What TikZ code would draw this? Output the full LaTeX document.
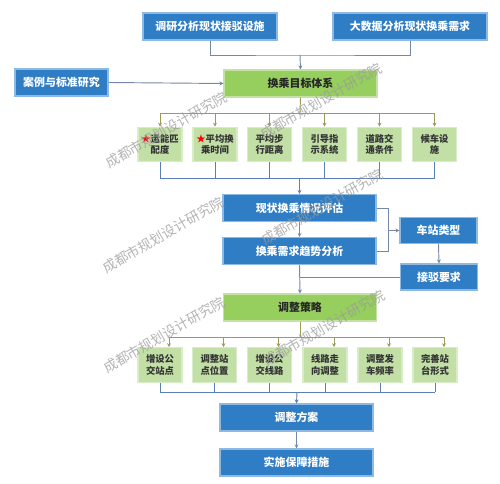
\documentclass[tikz,border=0pt]{standalone}
\usepackage{fontspec}
\setmainfont{Noto Sans CJK SC}
\usetikzlibrary{arrows.meta}
\definecolor{bfill}{HTML}{2E7DC5}
\definecolor{bdraw}{HTML}{8DB9E2}
\definecolor{gfill}{HTML}{96CF5E}
\definecolor{gdraw}{HTML}{C4E2A4}
\definecolor{sfill}{HTML}{C2DFA6}
\definecolor{sdraw}{HTML}{D9ECC8}
\definecolor{lblue}{HTML}{5B7DB8}
\definecolor{lgray}{HTML}{7588A6}
\definecolor{lolive}{HTML}{9C9A5A}
\definecolor{wm}{HTML}{9A9A9A}
\tikzset{
  bluebox/.style={draw=bdraw, line width=0.8pt, fill=bfill, text=white, font=\fontsize{8.2}{10}\selectfont\bfseries, minimum height=20.25pt, inner sep=0pt},
  greenbox/.style={draw=gdraw, line width=0.8pt, fill=gfill, text=black!85, font=\fontsize{8.2}{10}\selectfont\bfseries, minimum width=114.75pt, minimum height=20.25pt, inner sep=0pt},
  smallbox/.style={draw=sdraw, line width=0.8pt, fill=sfill, text=black!80, font=\fontsize{7}{8.6}\selectfont\bfseries, minimum width=33pt, minimum height=26pt, inner sep=0pt, align=center},
  conn/.style={line width=0.7pt},
  arr/.style={conn, -{Stealth[length=3pt,width=3pt]}},
  wmark/.style={text=wm, opacity=0.75, rotate=30, font=\fontsize{10.3}{12}\selectfont}
}
\newcommand{\rs}{\textcolor{red}{★}}
\begin{document}
\begin{tikzpicture}[x=0.75pt,y=-0.75pt]
\useasboundingbox (0,0) rectangle (500,484);
% top
\node[bluebox, minimum width=100.5pt] (top1) at (210,26.5) {调研分析现状接驳设施};
\node[bluebox, minimum width=115.5pt] (top2) at (410,26.5) {大数据分析现状换乘需求};
\node[bluebox, minimum width=69.75pt] (case) at (61.5,82.5) {案例与标准研究};
\node[greenbox] (target) at (300.5,83.5) {换乘目标体系};
% row 1
\node[smallbox] (g1) at (160,144.5) {\rs 运能匹\\配度};
\node[smallbox] (g2) at (215,144.5) {\rs 平均换\\乘时间};
\node[smallbox] (g3) at (269.5,144.5) {平均步\\行距离};
\node[smallbox] (g4) at (324.5,144.5) {引导指\\示系统};
\node[smallbox] (g5) at (379.5,144.5) {道路交\\通条件};
\node[smallbox] (g6) at (434.5,144.5) {候车设\\施};
% middle
\node[bluebox, minimum width=114.75pt] (eval) at (299.5,208) {现状换乘情况评估};
\node[bluebox, minimum width=114.75pt] (demand) at (299.5,251) {换乘需求趋势分析};
\node[bluebox, minimum width=57.75pt, minimum height=19.5pt] (stype) at (438.5,230.5) {车站类型};
\node[bluebox, minimum width=57.75pt, minimum height=19.5pt] (req) at (439,277) {接驳要求};
\node[greenbox] (strat) at (300,307.5) {调整策略};
% row 2
\node[smallbox] (h1) at (160,365) {增设公\\交站点};
\node[smallbox] (h2) at (214.5,365) {调整站\\点位置};
\node[smallbox] (h3) at (269.5,365) {增设公\\交线路};
\node[smallbox] (h4) at (325,365) {线路走\\向调整};
\node[smallbox] (h5) at (380,365) {调整发\\车频率};
\node[smallbox] (h6) at (435,365) {完善站\\台形式};
% bottom
\node[bluebox, minimum width=114.75pt] (plan) at (296.5,417.5) {调整方案};
\node[bluebox, minimum width=114.75pt] (impl) at (296.5,462.5) {实施保障措施};
% connectors top
\coordinate (j1) at (300,55);
\draw[conn, lgray] (top1.south) |- (j1) -| (top2.south);
\draw[arr, lgray] (j1) -- (target.north);
\draw[arr, lgray] (case.east) -- (target.west);
% bus 1
\coordinate (b1) at (300,113);
\draw[conn, lolive] (target.south) -- (b1);
\draw[conn, lolive] (g1.north |- b1) -- (g6.north |- b1);
\foreach \g in {g1,g2,g3,g4,g5,g6}{\draw[arr, lolive] (\g.north |- b1) -- (\g.north);}
% bus 2
\coordinate (b2) at (299.5,178);
\foreach \g in {g1,g2,g3,g4,g5,g6}{\draw[conn, lblue] (\g.south) -- (\g.south |- b2);}
\draw[conn, lblue] (g1.south |- b2) -- (g6.south |- b2);
\draw[arr, lblue] (b2) -- (eval.north);
\draw[arr, lgray] (eval.south) -- (demand.north);
% bracket
\coordinate (r) at (388,230.5);
\draw[conn, lgray] (eval.east) -| (r);
\draw[conn, lgray] (demand.east) -| (r);
\draw[arr, lgray] (r) -- (stype.west);
\draw[arr, lgray] (stype.south) -- (req.north);
\draw[arr, lgray] (demand.south) -- (strat.north);
\draw[conn, lgray] (req.west) -- (req.west -| demand.south);
% bus 3
\coordinate (b3) at (300,337);
\draw[conn, lolive] (strat.south) -- (b3);
\draw[conn, lolive] ([xshift=6.75pt]h1.north |- b3) -- ([xshift=6.75pt]h6.north |- b3);
\foreach \h in {h1,h2,h3,h4,h5,h6}{\draw[arr, lolive] ([xshift=6.75pt]\h.north |- b3) -- ([xshift=6.75pt]\h.north);}
% bus 4
\coordinate (b4) at (297,392);
\foreach \h in {h1,h2,h3,h4,h5,h6}{\draw[conn, lblue] (\h.south) -- (\h.south |- b4);}
\draw[conn, lblue] (h1.south |- b4) -- (h6.south |- b4);
\draw[arr, lblue] (b4) -- (plan.north);
\draw[arr, lgray] (plan.south) -- (impl.north);
% watermarks
\node[wmark] (w1) at (166,130) {成都市规划设计研究院};
\node[wmark] (w2) at (321,101) {成都市规划设计研究院};
\node[wmark] (w3) at (163,235) {成都市规划设计研究院};
\node[wmark] (w4) at (322,207) {成都市规划设计研究院};
\node[wmark] (w5) at (164,335) {成都市规划设计研究院};
\node[wmark] (w6) at (324,328) {成都市规划设计研究院};
\end{tikzpicture}
\end{document}
